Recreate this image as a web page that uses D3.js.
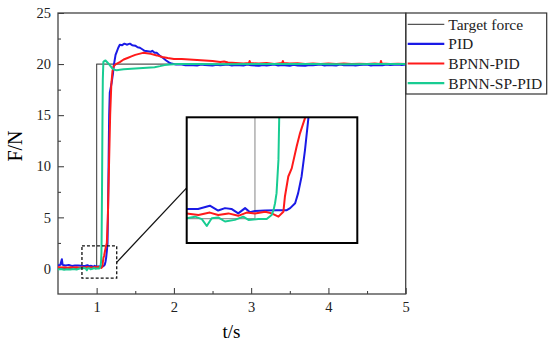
<!DOCTYPE html>
<html>
<head>
<meta charset="utf-8">
<script src="https://cdn.jsdelivr.net/npm/d3@7"></script>
<style>
  body { margin: 0; background: #fff; }
  svg { display: block; font-family: "Liberation Serif", "Times New Roman", serif; }
  .axis path, .axis line { stroke: #333; }
  .axis text { font-size: 14.5px; fill: #222; font-family: "Liberation Serif", serif; }
</style>
</head>
<body>
<div id="chart"></div>
<script>
// series names + colours (legend order)
var seriesNames = ["Target force", "PID", "BPNN-PID", "BPNN-SP-PID"];
var seriesColors = ["#555555", "#1a1ae6", "#ff1a1a", "#18cc92"];

var xTicks = [1, 2, 3, 4, 5];
var yTicks = [0, 5, 10, 15, 20, 25];

// [t (s), F (N)]
var target = [[0.5, 0], [1.0, 0], [1.0, 20], [5, 20]];

var pid = [
  [0.5, 0.3], [0.53, 0.35], [0.55, 0.9], [0.56, 0.35], [0.6, 0.3], [0.64, 0.35], [0.68, 0.25],
  [0.72, 0.3], [0.76, 0.28], [0.8, 0.26], [0.821, 0.24], [0.85, 0.24], [0.881, 0.32], [0.903, 0.2],
  [0.921, 0.26], [0.938, 0.24], [0.956, 0.13], [0.974, 0.26], [0.987, 0.16], [1.0, 0.19],
  [1.027, 0.2], [1.057, 0.21], [1.084, 0.21], [1.093, 0.26], [1.106, 0.38], [1.114, 0.63],
  [1.123, 1.04], [1.132, 1.69], [1.141, 2.48], [1.148, 6], [1.155, 10.5], [1.162, 15],
  [1.17, 17.2], [1.18, 17.6], [1.195, 18.2], [1.21, 19.0], [1.225, 20.0], [1.245, 20.9],
  [1.26, 21.2], [1.28, 21.6], [1.3, 21.9], [1.33, 21.85], [1.36, 22.0], [1.39, 21.9], [1.43, 22.0],
  [1.46, 21.85], [1.5, 21.8], [1.53, 21.65], [1.56, 21.6], [1.6, 21.4], [1.62, 21.3], [1.66, 21.25],
  [1.7, 21.2], [1.72, 21.3], [1.75, 21.1], [1.78, 21.1], [1.82, 20.8], [1.86, 20.6], [1.9, 20.35],
  [1.94, 20.15], [1.97, 20.05], [2.03, 19.95], [2.1, 19.95], [2.15, 19.88], [2.2, 19.92],
  [2.3, 19.85], [2.35, 19.95], [2.4, 19.9], [2.5, 19.85], [2.55, 19.93], [2.6, 19.88], [2.7, 19.95],
  [2.75, 19.85], [2.8, 19.9], [2.9, 19.85], [2.95, 19.95], [3.0, 19.88], [3.1, 19.84], [3.15, 19.92],
  [3.2, 19.86], [3.3, 19.95], [3.35, 19.85], [3.4, 19.9], [3.5, 19.84], [3.55, 19.93], [3.6, 19.87],
  [3.7, 19.83], [3.75, 19.92], [3.8, 19.88], [3.9, 19.95], [3.95, 19.86], [4.0, 19.9], [4.1, 19.85],
  [4.15, 19.95], [4.2, 19.88], [4.3, 19.92], [4.35, 19.85], [4.4, 19.9], [4.5, 19.95], [4.55, 19.87],
  [4.6, 19.92], [4.7, 19.88], [4.75, 19.95], [4.8, 19.9], [4.9, 19.97], [4.95, 19.9], [5.0, 19.95]
];

var bpnnPid = [
  [0.5, 0.15], [0.54, 0.1], [0.58, 0.12], [0.62, 0.08], [0.66, 0.12], [0.7, 0.1], [0.74, 0.12],
  [0.78, 0.08], [0.82, 0.13], [0.851, 0.09], [0.881, 0.15], [0.903, 0.09], [0.93, 0.13],
  [0.956, 0.07], [0.978, 0.15], [1.0, 0.13], [1.027, 0.17], [1.044, 0.13], [1.062, 0.05],
  [1.075, 0.17], [1.079, 0.54], [1.088, 1.04], [1.097, 1.24], [1.11, 1.78], [1.119, 2.11],
  [1.132, 2.48], [1.145, 5], [1.16, 10], [1.175, 15], [1.19, 18], [1.205, 19.3], [1.22, 19.8],
  [1.25, 20.0], [1.3, 20.2], [1.35, 20.45], [1.4, 20.6], [1.45, 20.75], [1.5, 20.9], [1.55, 21.0],
  [1.6, 21.1], [1.65, 21.05], [1.7, 21.0], [1.78, 20.85], [1.85, 20.7], [1.92, 20.6], [2.0, 20.5],
  [2.1, 20.5], [2.2, 20.45], [2.3, 20.4], [2.4, 20.35], [2.5, 20.3], [2.6, 20.2], [2.65, 20.25],
  [2.7, 20.15], [2.8, 20.1], [2.9, 20.05], [2.97, 20.1], [2.98, 20.3], [2.99, 20.1], [3.1, 20.05],
  [3.2, 20.1], [3.3, 20.02], [3.4, 20.1], [3.41, 20.3], [3.42, 20.1], [3.5, 20.05], [3.6, 20.08],
  [3.7, 20.02], [3.8, 20.06], [3.9, 20.0], [4.0, 20.05], [4.1, 20.02], [4.2, 20.06], [4.3, 20.0],
  [4.4, 20.04], [4.5, 20.0], [4.6, 20.05], [4.67, 20.02], [4.68, 20.3], [4.69, 20.05], [4.8, 20.0],
  [4.9, 20.04], [5.0, 20.0]
];

var bpnnSpPid = [
  [0.5, -0.1], [0.54, -0.05], [0.58, -0.12], [0.62, -0.08], [0.66, -0.1], [0.7, -0.05], [0.74, -0.1],
  [0.78, 0.0], [0.82, 0.01], [0.842, 0.05], [0.86, -0.01], [0.873, -0.18], [0.886, 0.01],
  [0.903, 0.03], [0.921, -0.07], [0.947, -0.03], [0.969, 0.05], [0.983, -0.03], [1.009, -0.01],
  [1.031, -0.01], [1.044, 0.09], [1.049, 0.21], [1.053, 0.38], [1.057, 0.63], [1.062, 1.45],
  [1.064, 2.48], [1.07, 8], [1.075, 14], [1.08, 18.5], [1.087, 20.2], [1.1, 20.3], [1.115, 20.35],
  [1.14, 20.15], [1.17, 19.9], [1.2, 19.6], [1.23, 19.45], [1.26, 19.4], [1.3, 19.45], [1.35, 19.5],
  [1.45, 19.55], [1.55, 19.6], [1.65, 19.65], [1.75, 19.7], [1.82, 19.8], [1.88, 19.9], [1.95, 19.95],
  [2.05, 20.0], [2.3, 20.02], [2.6, 19.98], [3.0, 20.02], [3.4, 20.0], [3.8, 20.02], [4.2, 19.98],
  [4.6, 20.02], [5.0, 20.0]
];

var allSeries = [target, pid, bpnnPid, bpnnSpPid];

// zoom window in data units and the inset's own domain
var zoomT = [0.81, 1.26], zoomF = [-0.95, 2.2];
var insetT = [0.82, 1.27], insetF = [-0.6, 2.5];

var W = 550, H = 346;
var svg = d3.select("#chart").append("svg").attr("width", W).attr("height", H);

var x = d3.scaleLinear().domain([0.5, 5]).range([58, 405.7]);
var y = d3.scaleLinear().domain([-2.5, 25]).range([294, 13]);

svg.append("clipPath").attr("id", "mainClip").append("rect")
  .attr("x", 58).attr("y", 13).attr("width", 347.7).attr("height", 281);

// axes, ticks pointing inside
svg.append("g").attr("class", "axis")
  .attr("transform", "translate(0,294)")
  .call(d3.axisBottom(x).tickValues(xTicks).tickSize(-6).tickPadding(8).tickFormat(d3.format("d")));
svg.append("g").attr("class", "axis minor")
  .attr("transform", "translate(0,294)")
  .call(d3.axisBottom(x).tickValues([1.5, 2.5, 3.5, 4.5]).tickSize(-3).tickFormat(""));
svg.append("g").attr("class", "axis")
  .attr("transform", "translate(58,0)")
  .call(d3.axisLeft(y).tickValues(yTicks).tickSize(-6).tickPadding(7).tickFormat(d3.format("d")));
svg.append("g").attr("class", "axis minor")
  .attr("transform", "translate(58,0)")
  .call(d3.axisLeft(y).tickValues([2.5, 7.5, 12.5, 17.5, 22.5]).tickSize(-3).tickFormat(""));
svg.selectAll(".axis .domain").remove();

// frame
svg.append("rect").attr("x", 58).attr("y", 13).attr("width", 347.7).attr("height", 281)
  .attr("fill", "none").attr("stroke", "#444").attr("stroke-width", 1.3);

var line = d3.line().x(d => x(d[0])).y(d => y(d[1]));

svg.append("g").attr("clip-path", "url(#mainClip)")
  .selectAll("path").data(allSeries).enter().append("path")
  .attr("d", line)
  .attr("fill", "none")
  .attr("stroke", (d, i) => seriesColors[i])
  .attr("stroke-width", (d, i) => i == 0 ? 1.2 : 2)
  .attr("stroke-linejoin", "round");

// dashed zoom box
svg.append("rect")
  .attr("x", x(zoomT[0])).attr("y", y(zoomF[1]))
  .attr("width", x(zoomT[1]) - x(zoomT[0])).attr("height", y(zoomF[0]) - y(zoomF[1]))
  .attr("fill", "none").attr("stroke", "#111").attr("stroke-width", 1.3)
  .attr("stroke-dasharray", "3,2");

// inset
var ix = d3.scaleLinear().domain(insetT).range([186.7, 357.3]);
var iy = d3.scaleLinear().domain(insetF).range([243, 117.3]);

// connector
svg.append("line")
  .attr("x1", x(zoomT[1])).attr("y1", y(0.6))
  .attr("x2", 186.7).attr("y2", iy(0.76))
  .attr("stroke", "#111").attr("stroke-width", 1.3);

svg.append("clipPath").attr("id", "insetClip").append("rect")
  .attr("x", 186.7).attr("y", 117.3).attr("width", 170.6).attr("height", 125.7);
svg.append("rect").attr("x", 186.7).attr("y", 117.3).attr("width", 170.6).attr("height", 125.7)
  .attr("fill", "#fff");

var iline = d3.line().x(d => ix(d[0])).y(d => iy(d[1]));
svg.append("g").attr("clip-path", "url(#insetClip)")
  .selectAll("path").data(allSeries).enter().append("path")
  .attr("d", iline)
  .attr("fill", "none")
  .attr("stroke", (d, i) => i == 0 ? "#999" : seriesColors[i])
  .attr("stroke-width", (d, i) => i == 0 ? 1.2 : 2)
  .attr("stroke-linejoin", "round");

svg.append("rect").attr("x", 186.7).attr("y", 117.3).attr("width", 170.6).attr("height", 125.7)
  .attr("fill", "none").attr("stroke", "#000").attr("stroke-width", 2);

// axis titles
svg.append("text")
  .attr("x", 231.5).attr("y", 338)
  .attr("text-anchor", "middle")
  .style("font-size", "19px")
  .text("t/s");
svg.append("text")
  .attr("transform", "translate(22,146) rotate(-90)")
  .attr("text-anchor", "middle")
  .style("font-size", "20px")
  .text("F/N");

// legend
var legend = svg.append("g");
legend.append("rect").attr("x", 406).attr("y", 13).attr("width", 140.7).attr("height", 81)
  .attr("fill", "#fff").attr("stroke", "#333").attr("stroke-width", 1.2);
seriesNames.forEach(function (name, i) {
  var ly = 24.3 + i * 19.6;
  legend.append("line")
    .attr("x1", 407.7).attr("x2", 444.3).attr("y1", ly).attr("y2", ly)
    .attr("stroke", seriesColors[i]).attr("stroke-width", i == 0 ? 1.3 : 2.2);
  legend.append("text")
    .attr("x", 448.3).attr("y", ly + 5.5)
    .style("font-size", "15.5px")
    .attr("fill", "#222")
    .text(name);
});
</script>
</body>
</html>
